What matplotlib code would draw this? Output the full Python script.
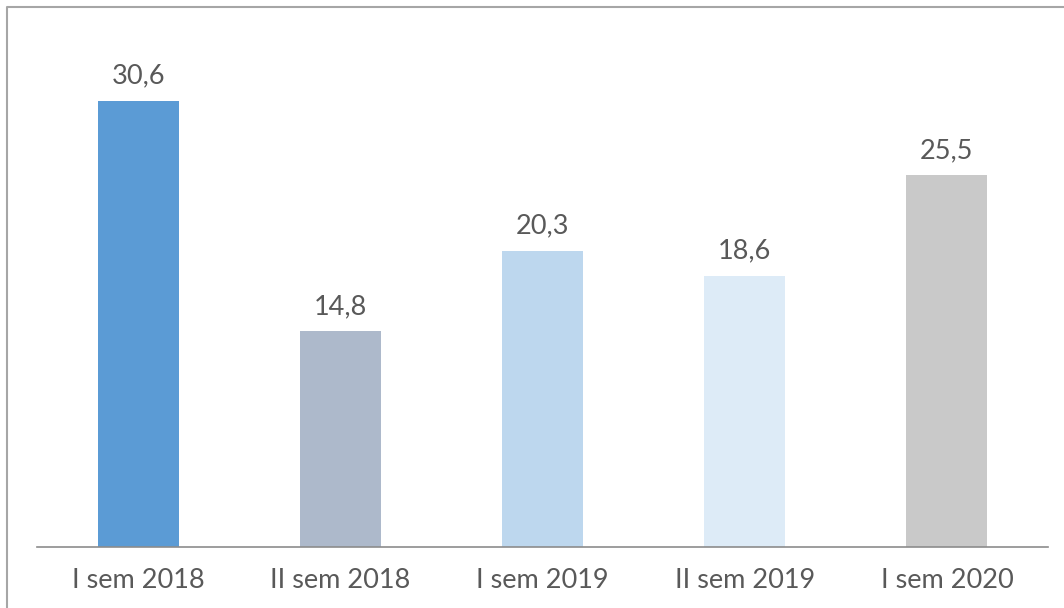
import matplotlib
matplotlib.use('Agg')
import matplotlib.pyplot as plt
from matplotlib.lines import Line2D

categories = ['I sem 2018', 'II sem 2018', 'I sem 2019', 'II sem 2019', 'I sem 2020']
values = [30.6, 14.8, 20.3, 18.6, 25.5]
colors = ['#5B9BD5', '#ADB9CB', '#BDD7EE', '#DDEBF7', '#C9C9C9']

plt.rcParams['font.family'] = ['Lato', 'DejaVu Sans']
text_color = '#595959'

fig = plt.figure(figsize=(10.64, 6.08), dpi=100)
W, H = 1064, 608
ax = fig.add_axes([37 / W, 61 / H, (1048 - 37) / W, (547 - 37) / H])

x = list(range(len(categories)))
bars = ax.bar(x, values, width=0.4, color=colors)
ax.set_xlim(-0.5, len(categories) - 0.5)
ax.set_ylim(0, 35)

for xi, v in zip(x, values):
    ax.annotate(f'{v:.1f}'.replace('.', ','), (xi, v), xytext=(0, 9),
                textcoords='offset points', ha='center', va='bottom',
                fontsize=19.5, color=text_color)

ax.set_xticks(x)
ax.set_xticklabels(categories, fontsize=19.5, color=text_color)
ax.tick_params(axis='x', length=0, pad=15)
ax.set_yticks([])
for side in ['top', 'right', 'left']:
    ax.spines[side].set_visible(False)
ax.spines['bottom'].set_color('#8C8C8C')
ax.spines['bottom'].set_linewidth(1.2)

# outer frame (only top and left edges visible in the crop)
fig.add_artist(Line2D([7 / W, 7 / W, 1.0], [0.0, 1 - 7 / H, 1 - 7 / H],
                      transform=fig.transFigure, color='#A6A6A6', linewidth=1.5))

fig.savefig('out.png', dpi=100)
